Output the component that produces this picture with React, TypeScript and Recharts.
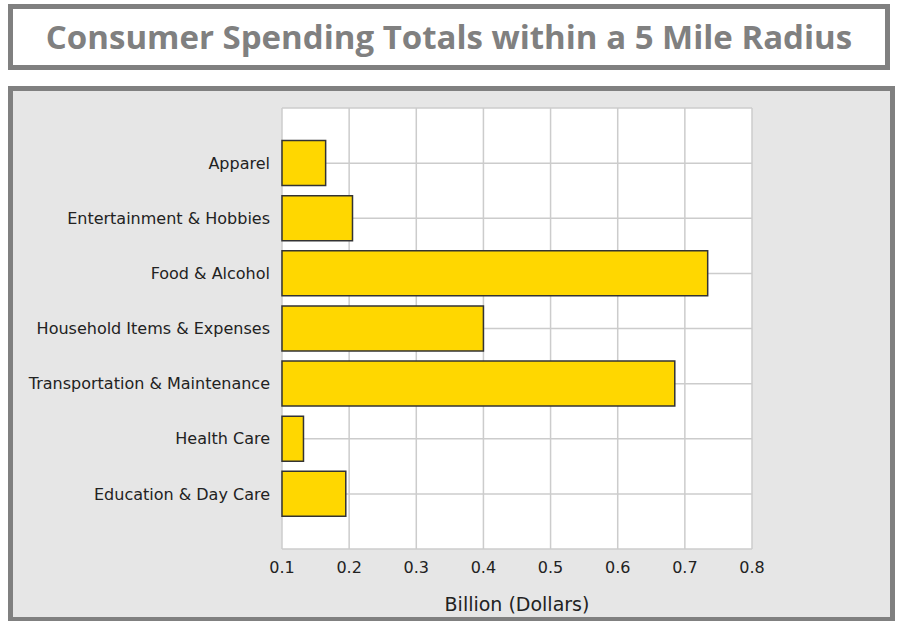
import React from 'react';
import { BarChart, Bar, XAxis, YAxis, CartesianGrid, Label } from 'recharts';

const categories = [
  'Apparel',
  'Entertainment & Hobbies',
  'Food & Alcohol',
  'Household Items & Expenses',
  'Transportation & Maintenance',
  'Health Care',
  'Education & Day Care',
];
const spending = [0.165, 0.205, 0.734, 0.4, 0.685, 0.132, 0.195];
const xTicks = [0.1, 0.2, 0.3, 0.4, 0.5, 0.6, 0.7, 0.8];
const yTicks = [0, 1, 2, 3, 4, 5, 6, 7, 8];

const data = categories.map((name, i) => ({ name, pos: i + 1, value: spending[i] }));

const tickFont = { fill: '#222', fontSize: 16, fontFamily: '"DejaVu Sans", sans-serif' };

export default function App() {
  return (
    <div style={{ position: 'absolute', left: 0, top: 0, width: 898, height: 621, overflow: 'hidden', background: '#fff' }}>
      <div
        style={{
          position: 'absolute', left: 8, top: 4, width: 882, height: 66, boxSizing: 'border-box',
          border: '5px solid #808080', background: '#fff', color: '#808080',
          fontFamily: '"Open Sans", sans-serif', fontWeight: 700, fontSize: 33,
          textAlign: 'center', lineHeight: '56px',
        }}
      >
        Consumer Spending Totals within a 5 Mile Radius
      </div>
      <div
        style={{
          position: 'absolute', left: 8, top: 86, width: 887, height: 536, boxSizing: 'border-box',
          border: '5px solid #808080', background: '#e6e6e6',
        }}
      />
      <div style={{ position: 'absolute', left: 0, top: 0 }}>
        <BarChart
          width={898}
          height={621}
          data={data}
          layout="vertical"
          margin={{ top: 108, right: 146, bottom: 0, left: 0 }}
        >
          <CartesianGrid stroke="#cccccc" strokeWidth={1.5} fill="#ffffff" />
          <XAxis
            type="number"
            dataKey="value"
            domain={[0.1, 0.8]}
            ticks={xTicks}
            tickFormatter={(v: number) => v.toFixed(1)}
            axisLine={false}
            tickLine={false}
            tickSize={0}
            tickMargin={13}
            height={72}
            tick={tickFont}
          >
            <Label
              value="Billion (Dollars)"
              position="insideBottom"
              offset={10}
              style={{ fill: '#222', fontSize: 19, fontFamily: '"DejaVu Sans", sans-serif' }}
            />
          </XAxis>
          <YAxis
            type="number"
            dataKey="pos"
            domain={[0, 8]}
            ticks={yTicks}
            width={282}
            interval={0}
            tickFormatter={(v: number) => categories[v - 1] ?? ''}
            axisLine={false}
            tickLine={false}
            tickSize={0}
            tickMargin={12}
            tick={tickFont}
          />
          <Bar dataKey="value" fill="#FFD700" stroke="#333" strokeWidth={1.5} barSize={45} isAnimationActive={false} />
        </BarChart>
      </div>
    </div>
  );
}
